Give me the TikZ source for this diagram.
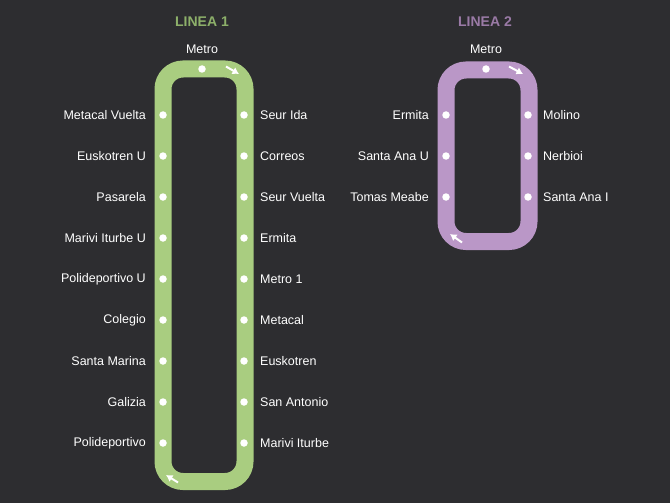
\documentclass[tikz,border=0pt]{standalone}
\usepackage{fontspec}
\setmainfont{Liberation Sans}
\usetikzlibrary{arrows.meta}
\definecolor{bg}{HTML}{2D2D30}
\definecolor{greenline}{HTML}{A9CD80}
\definecolor{greentitle}{HTML}{8DB06A}
\definecolor{purpleline}{HTML}{BA97C7}
\definecolor{purpletitle}{HTML}{9A7AA6}
\tikzset{
  stop/.style={circle,fill=white,inner sep=0pt,minimum size=7.5pt},
  lbl/.style={text=white,font=\fontsize{12.5}{14}\selectfont,inner sep=0pt},
  lleft/.style={lbl,anchor=east},
  lright/.style={lbl,anchor=west},
  title/.style={font=\fontsize{14}{16}\selectfont\bfseries,inner sep=0pt},
  track/.style={line width=17pt,rounded corners=20pt},
  dir/.style={white,line width=2pt,-{Latex[length=6.5pt,width=8pt]}}
}
\begin{document}
\begin{tikzpicture}[x=1pt,y=-1pt]
\fill[bg] (0,0) rectangle (670,503);
\useasboundingbox (0,0) rectangle (670,503);
% Line 1
\node[title,text=greentitle] (t1) at (202,22) {LINEA 1};
\draw[track,greenline] (163,69) rectangle (245,481.5);
\node[stop] (m1) at (202,69) {};
\node[lbl] (m1l) at (202,49) {Metro};
\foreach \n [count=\i] in {Metacal Vuelta,Euskotren U,Pasarela,Marivi Iturbe U,Polideportivo U,Colegio,Santa Marina,Galizia,Polideportivo}{
  \node[stop] (a\i) at (163,{115+41*(\i-1)}) {};
  \node[lleft] (al\i) at (146,{115+41*(\i-1)}) {\n};
}
\foreach \n [count=\i] in {Seur Ida,Correos,Seur Vuelta,Ermita,Metro 1,Metacal,Euskotren,San Antonio,Marivi Iturbe}{
  \node[stop] (b\i) at (244,{115+41*(\i-1)}) {};
  \node[lright] (bl\i) at (260,{115+41*(\i-1)}) {\n};
}
\coordinate (d1s) at (226,66.5);
\coordinate (d1e) at (239,74);
\draw[dir] (d1s) -- (d1e);
\coordinate (d2s) at (178,482.5);
\coordinate (d2e) at (166,475);
\draw[dir] (d2s) -- (d2e);
% Line 2
\node[title,text=purpletitle] (t2) at (485,22) {LINEA 2};
\draw[track,purpleline] (446,70) rectangle (529,241.5);
\node[stop] (m2) at (486,69) {};
\node[lbl] (m2l) at (486,49) {Metro};
\foreach \n [count=\i] in {Ermita,Santa Ana U,Tomas Meabe}{
  \node[stop] (c\i) at (446,{115+41*(\i-1)}) {};
  \node[lleft] (cl\i) at (429,{115+41*(\i-1)}) {\n};
}
\foreach \n [count=\i] in {Molino,Nerbioi,Santa Ana I}{
  \node[stop] (e\i) at (528,{115+41*(\i-1)}) {};
  \node[lright] (el\i) at (543,{115+41*(\i-1)}) {\n};
}
\coordinate (d3s) at (509,66.5);
\coordinate (d3e) at (523,74);
\draw[dir] (d3s) -- (d3e);
\coordinate (d4s) at (462,242.5);
\coordinate (d4e) at (450,234);
\draw[dir] (d4s) -- (d4e);
\end{tikzpicture}
\end{document}
